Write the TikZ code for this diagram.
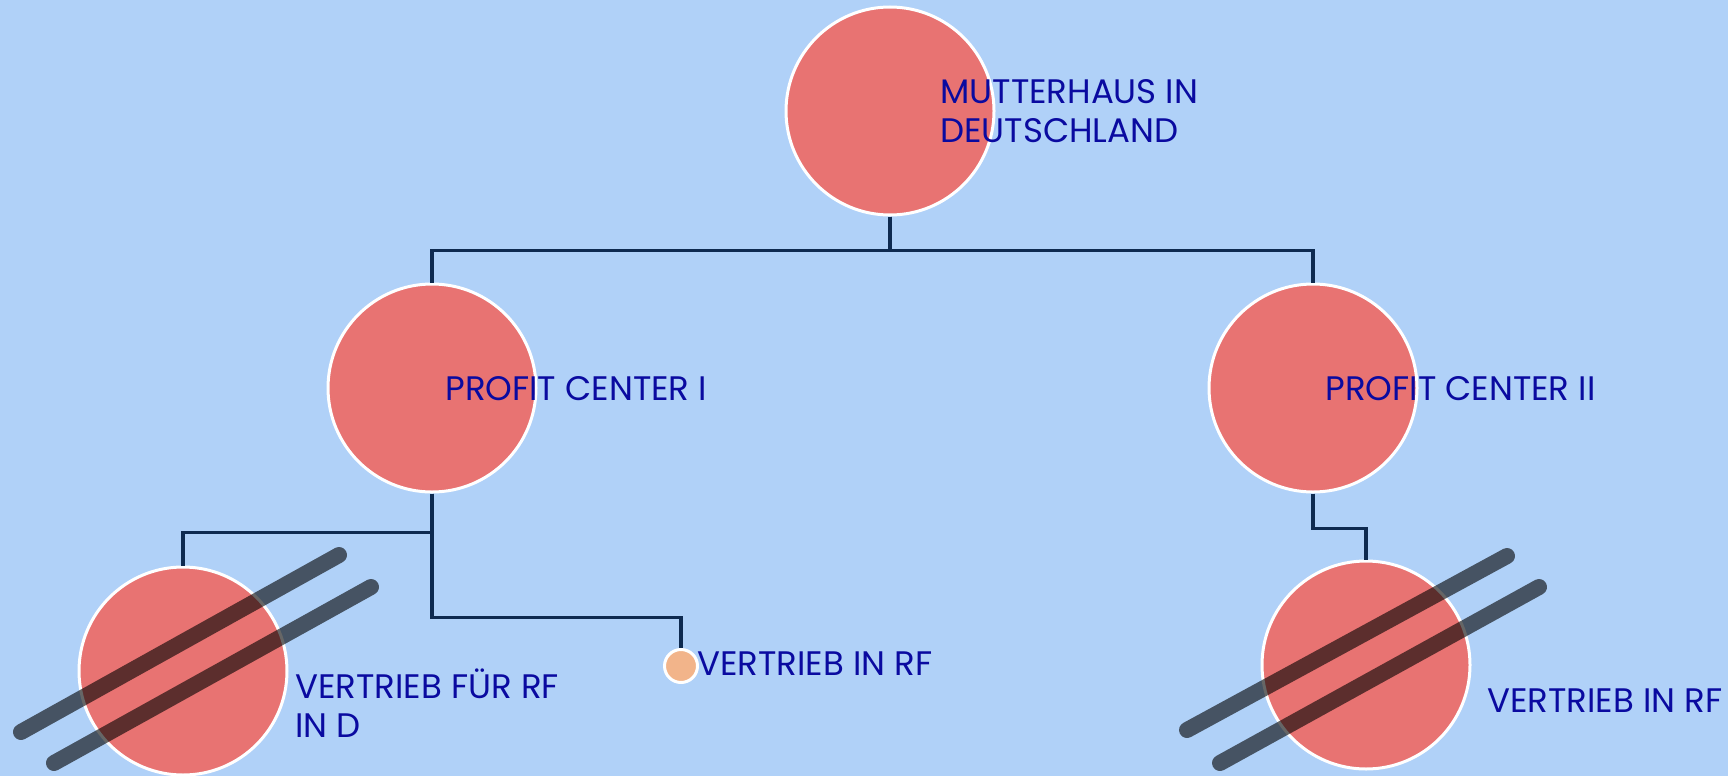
\documentclass[tikz,border=0pt]{standalone}
\usepackage{fontspec}
\setmainfont{Poppins}
\definecolor{skyBack}{HTML}{B0D1F8}
\definecolor{circleRed}{HTML}{E87372}
\definecolor{dotPeach}{HTML}{F2B48A}
\definecolor{lineNavy}{HTML}{0E2A50}
\definecolor{textBlue}{HTML}{0A0AA0}
\tikzset{
    % Org chart
    orgCircle/.style={circle, fill=circleRed, draw=white, line width=1.5pt, minimum size=104pt, inner sep=0pt},
    smallDot/.style={circle, fill=dotPeach, draw=white, line width=1.5pt, minimum size=16.5pt, inner sep=0pt},
    orgLabel/.style={anchor=base west, inner sep=0pt, align=left, text=textBlue, font=\fontsize{17}{19.5}\selectfont},
    orgLink/.style={draw=lineNavy, line width=1.75pt},
    % Struck out units
    strikeBar/.style={draw=black, draw opacity=0.6, line width=8pt, line cap=round}
}
\begin{document}
\begin{tikzpicture}[x=0.5pt, y=-0.5pt]
        % Background
        \fill[skyBack] (0,0) rectangle (1728,776);
        \useasboundingbox (0,0) rectangle (1728,776);

        % Circles
        \node[orgCircle] (mh) at (890,111) {};
        \node[orgCircle] (pc1) at (432,388) {};
        \node[orgCircle] (pc2) at (1313,388) {};
        \node[orgCircle] (vfd) at (183,671) {};
        \node[smallDot] (vrf) at (681,666) {};
        \node[orgCircle] (vrf2) at (1366,665) {};

        % Links
        \draw[orgLink] (mh.south) -- ++(0,34) -| (pc1.north);
        \draw[orgLink] (mh.south) -- ++(0,34) -| (pc2.north);
        \draw[orgLink] (pc1.south) -- ++(0,39) -| (vfd.north);
        \draw[orgLink] (pc1.south) -- ++(0,124) -| (vrf.north);
        \draw[orgLink] (pc2.south) -- ++(0,35) -| (vrf2.north);

        % Labels (base = last line)
        \node[orgLabel] (mhText) at (940,142) {MUTTERHAUS IN\\DEUTSCHLAND};
        \node[orgLabel] (pc1Text) at (445,400) {PROFIT CENTER I};
        \node[orgLabel] (pc2Text) at (1325,400) {PROFIT CENTER II};
        \node[orgLabel] (vfdText) at (295,737) {VERTRIEB FÜR RF\\IN D};
        \node[orgLabel] (vrfText) at (697,675) {VERTRIEB IN RF};
        \node[orgLabel] (vrf2Text) at (1487,712) {VERTRIEB IN RF};

        % Strikes
        \draw[strikeBar] (21,732) -- (339,555);
        \draw[strikeBar] (54,763) -- (371,587);
        \draw[strikeBar] (1187,730) -- (1507,556);
        \draw[strikeBar] (1220,763) -- (1539,587);
    \end{tikzpicture}
\end{document}
